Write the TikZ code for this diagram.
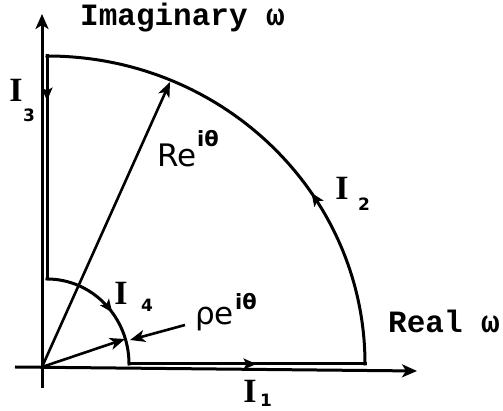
\documentclass[tikz,border=0pt]{standalone}
\usepackage{fontspec}
\setmainfont{Liberation Serif}
\newfontfamily\typefont{Liberation Mono}
\newfontfamily\handfont{DejaVu Sans}
\usetikzlibrary{arrows.meta,decorations.markings}
\begin{document}
\begin{tikzpicture}[x=1pt,y=1pt,
  axisline/.style={line width=3pt, -{Stealth[length=15pt,width=13pt,inset=4pt]}},
  contour/.style={line width=3pt, line cap=rect},
  vec/.style={line width=2.6pt, -{Stealth[length=15pt,width=12pt,inset=4pt]}},
  midarrow/.style={decoration={markings, mark=at position #1 with {\arrow{Stealth[length=13pt,width=11pt,inset=3pt]}}}, postaction=decorate},
  typelabel/.style={inner sep=0pt, anchor=base west, font=\typefont\bfseries\fontsize{31}{31}\selectfont},
  bigI/.style={inner sep=0pt, font=\bfseries\fontsize{34}{34}\selectfont},
  sub/.style={inner sep=0pt, font=\handfont\bfseries\fontsize{17}{17}\selectfont},
  hand/.style={inner sep=0pt, anchor=base west, font=\handfont\fontsize{31}{31}\selectfont},
  sup/.style={inner sep=0pt, anchor=base west, font=\handfont\bfseries\fontsize{21}{21}\selectfont}
]
\useasboundingbox (0,0) rectangle (503,411);
% key points
\coordinate (O) at (42,44);
\coordinate (vb) at (42,23);
\coordinate (vt) at (42,397);
\coordinate (hl) at (15,44);
\coordinate (hr) at (417,40);
\coordinate (c1) at (129,47);
\coordinate (c2) at (365,47);
\coordinate (c3) at (47,355);
\coordinate (c4) at (47,132);
\coordinate (R) at (170,329);
\coordinate (rho) at (125,72);
\coordinate (ps) at (185,86);
\coordinate (pe) at (130,71);
% axes
\draw[axisline] (vb) -- (vt);
\draw[axisline] (hl) -- (hr);
% contour
\draw[contour, midarrow=0.54] (c1) -- (c2);
\draw[contour, midarrow=0.37] (c2) arc[start angle=0, end angle=90, x radius=318, y radius=308];
\draw[contour, midarrow=0.2] (c3) -- (c4);
\draw[contour, midarrow=0.58] (c4) arc[start angle=90, end angle=0, x radius=82, y radius=85];
% vectors
\draw[vec] (O) -- (R);
\draw[vec] (O) -- (rho);
\draw[vec] (ps) -- (pe);
% labels
\node[typelabel] (imag) at (80,385) {Imaginary ω};
\node[typelabel] (real) at (388,78) {Real ω};
\node[bigI] (i3) at (16,321) {I};
\node[sub] (s3) at (29,296) {3};
\node[bigI] (i2) at (342,223) {I};
\node[sub] (s2) at (364,207) {2};
\node[bigI] (i4) at (121,118) {I};
\node[sub] (s4) at (147,106) {4};
\node[bigI] (i1) at (250,20) {I};
\node[sub] (s1) at (266,11) {1};
\node[hand] (re) at (157,244) {Re};
\node[sup] (resup) at (197,264) {iθ};
\node[hand] (rhoe) at (195,86) {ρe};
\node[sup] (rhosup) at (235,101) {iθ};
\end{tikzpicture}
\end{document}
